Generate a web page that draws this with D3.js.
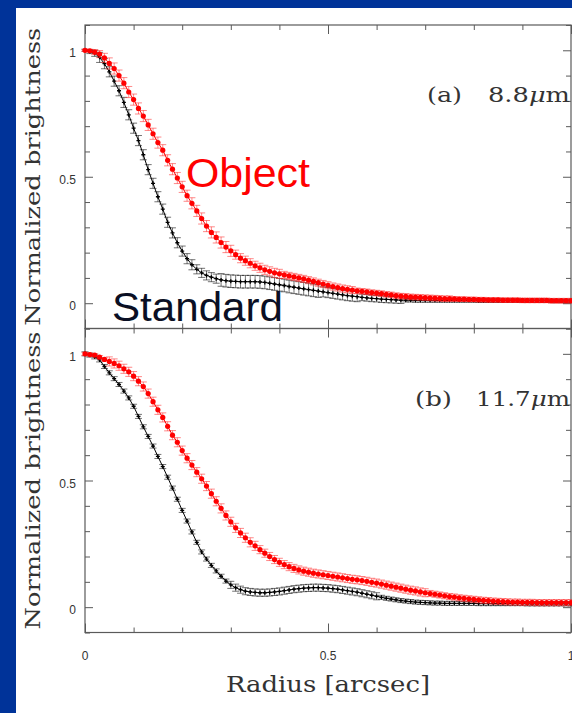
<!DOCTYPE html>
<html><head><meta charset="utf-8">
<script src="https://cdn.jsdelivr.net/npm/d3@7"></script>
<style>body{margin:0;background:#003399;}svg{display:block}</style>
</head><body><svg id="c" width="572" height="713"></svg>
<script>
// ---------------- data ----------------
const radius = [0,0.01,0.02,0.03,0.04,0.05,0.06,0.07,0.08,0.09,0.1,0.11,0.12,0.13,0.14,0.15,0.16,0.17,0.18,0.19,0.2,0.21,0.22,0.23,0.24,0.25,0.26,0.27,0.28,0.29,0.3,0.31,0.32,0.33,0.34,0.35,0.36,0.37,0.38,0.39,0.4,0.41,0.42,0.43,0.44,0.45,0.46,0.47,0.48,0.49,0.5,0.51,0.52,0.53,0.54,0.55,0.56,0.57,0.58,0.59,0.6,0.61,0.62,0.63,0.64,0.65,0.66,0.67,0.68,0.69,0.7,0.71,0.72,0.73,0.74,0.75,0.76,0.77,0.78,0.79,0.8,0.81,0.82,0.83,0.84,0.85,0.86,0.87,0.88,0.89,0.9,0.91,0.92,0.93,0.94,0.95,0.96,0.97,0.98,0.99,1.0];

// panel (a) 8.8 um
const objectA = [1.000,0.998,0.993,0.985,0.970,0.948,0.928,0.900,0.870,0.835,0.805,0.770,0.740,0.705,0.670,0.635,0.605,0.565,0.530,0.495,0.460,0.425,0.395,0.365,0.335,0.305,0.280,0.260,0.240,0.222,0.207,0.192,0.178,0.168,0.158,0.148,0.140,0.132,0.126,0.120,0.116,0.112,0.108,0.104,0.100,0.096,0.091,0.086,0.081,0.076,0.071,0.066,0.062,0.058,0.055,0.052,0.049,0.047,0.045,0.042,0.040,0.038,0.035,0.033,0.030,0.028,0.027,0.025,0.024,0.023,0.022,0.021,0.020,0.019,0.018,0.018,0.017,0.016,0.016,0.015,0.015,0.014,0.014,0.013,0.013,0.013,0.012,0.012,0.012,0.012,0.011,0.011,0.011,0.011,0.011,0.011,0.010,0.010,0.010,0.010,0.010];
const objectErrA = [0.004,0.006,0.010,0.014,0.018,0.022,0.022,0.022,0.022,0.022,0.022,0.022,0.022,0.022,0.022,0.022,0.022,0.022,0.022,0.022,0.022,0.022,0.022,0.022,0.022,0.022,0.022,0.022,0.022,0.022,0.022,0.018,0.018,0.018,0.018,0.018,0.018,0.018,0.018,0.018,0.018,0.014,0.014,0.014,0.014,0.014,0.014,0.014,0.014,0.014,0.014,0.014,0.014,0.014,0.014,0.014,0.011,0.011,0.011,0.011,0.011,0.011,0.011,0.011,0.011,0.011,0.011,0.011,0.011,0.011,0.011,0.011,0.011,0.011,0.011,0.011,0.009,0.009,0.009,0.009,0.009,0.009,0.009,0.009,0.009,0.009,0.009,0.009,0.009,0.009,0.009,0.009,0.009,0.009,0.009,0.009,0.009,0.009,0.009,0.009,0.009];
const standardA = [1.000,0.995,0.988,0.972,0.947,0.915,0.878,0.840,0.794,0.745,0.692,0.643,0.587,0.528,0.474,0.421,0.372,0.320,0.278,0.239,0.206,0.176,0.152,0.134,0.120,0.110,0.103,0.097,0.092,0.089,0.087,0.086,0.085,0.085,0.085,0.085,0.084,0.082,0.079,0.076,0.073,0.070,0.066,0.063,0.060,0.057,0.054,0.051,0.048,0.045,0.042,0.039,0.036,0.033,0.030,0.028,0.026,0.023,0.021,0.019,0.018,0.016,0.015,0.014,0.013,0.012,0.012,0.012,0.011,0.011,0.011,0.011,0.011,0.011,0.011,0.011,0.011,0.011,0.011,0.011,0.011,0.010,0.010,0.010,0.010,0.010,0.010,0.010,0.010,0.010,0.010,0.010,0.010,0.010,0.010,0.010,0.009,0.009,0.009,0.009,0.009];
const standardErrA = [0.004,0.008,0.012,0.020,0.020,0.020,0.020,0.020,0.020,0.020,0.020,0.020,0.020,0.020,0.020,0.020,0.020,0.020,0.020,0.020,0.020,0.020,0.020,0.018,0.018,0.018,0.018,0.018,0.025,0.025,0.025,0.025,0.025,0.025,0.025,0.025,0.025,0.025,0.025,0.025,0.025,0.025,0.025,0.025,0.025,0.025,0.025,0.025,0.025,0.020,0.020,0.020,0.020,0.020,0.020,0.020,0.020,0.013,0.013,0.013,0.013,0.013,0.013,0.013,0.013,0.013,0.007,0.007,0.007,0.007,0.007,0.007,0.007,0.007,0.007,0.007,0.007,0.007,0.007,0.007,0.007,0.007,0.007,0.007,0.007,0.007,0.007,0.007,0.007,0.007,0.007,0.007,0.007,0.007,0.007,0.007,0.007,0.007,0.007,0.007,0.007];

// panel (b) 11.7 um
const objectB = [1.000,0.997,0.995,0.987,0.978,0.970,0.962,0.953,0.941,0.929,0.912,0.892,0.871,0.843,0.811,0.779,0.749,0.714,0.679,0.651,0.618,0.588,0.561,0.533,0.507,0.478,0.448,0.418,0.390,0.362,0.337,0.313,0.293,0.274,0.256,0.242,0.227,0.213,0.200,0.188,0.177,0.168,0.160,0.153,0.147,0.142,0.138,0.134,0.131,0.128,0.125,0.122,0.119,0.116,0.113,0.110,0.108,0.105,0.102,0.098,0.095,0.091,0.087,0.083,0.079,0.075,0.071,0.067,0.064,0.060,0.057,0.054,0.051,0.048,0.045,0.042,0.040,0.037,0.035,0.033,0.031,0.029,0.027,0.026,0.024,0.023,0.022,0.021,0.020,0.020,0.019,0.019,0.019,0.018,0.018,0.018,0.018,0.018,0.018,0.018,0.018];
const objectErrB = [0.006,0.006,0.006,0.006,0.006,0.018,0.018,0.018,0.018,0.018,0.018,0.018,0.018,0.018,0.018,0.018,0.018,0.018,0.018,0.018,0.018,0.018,0.018,0.018,0.018,0.018,0.018,0.018,0.018,0.018,0.018,0.018,0.018,0.018,0.018,0.018,0.016,0.016,0.016,0.016,0.016,0.016,0.016,0.016,0.016,0.016,0.016,0.016,0.016,0.016,0.016,0.016,0.016,0.016,0.016,0.016,0.016,0.016,0.016,0.016,0.016,0.016,0.016,0.016,0.016,0.016,0.016,0.016,0.016,0.016,0.016,0.012,0.012,0.012,0.012,0.012,0.012,0.012,0.012,0.012,0.012,0.012,0.012,0.012,0.012,0.012,0.012,0.012,0.012,0.012,0.012,0.012,0.012,0.012,0.012,0.012,0.012,0.012,0.012,0.012,0.012];
const standardB = [1.000,0.995,0.988,0.976,0.950,0.925,0.902,0.879,0.853,0.826,0.793,0.753,0.712,0.674,0.636,0.595,0.555,0.513,0.470,0.426,0.382,0.340,0.297,0.256,0.218,0.190,0.165,0.143,0.122,0.103,0.088,0.077,0.069,0.063,0.060,0.058,0.057,0.057,0.058,0.060,0.062,0.065,0.068,0.071,0.073,0.075,0.076,0.077,0.077,0.076,0.075,0.073,0.071,0.068,0.065,0.062,0.059,0.055,0.051,0.047,0.043,0.039,0.035,0.032,0.029,0.026,0.024,0.022,0.020,0.019,0.018,0.017,0.016,0.016,0.015,0.015,0.015,0.015,0.015,0.015,0.015,0.014,0.014,0.014,0.014,0.014,0.014,0.014,0.014,0.014,0.014,0.013,0.013,0.013,0.013,0.013,0.013,0.013,0.013,0.013,0.013];
const standardErrB = [0.008,0.008,0.008,0.008,0.008,0.008,0.008,0.008,0.008,0.008,0.008,0.008,0.008,0.008,0.008,0.008,0.008,0.008,0.008,0.008,0.008,0.008,0.008,0.008,0.008,0.008,0.008,0.008,0.008,0.008,0.014,0.014,0.014,0.014,0.014,0.014,0.014,0.014,0.014,0.014,0.014,0.014,0.014,0.014,0.014,0.014,0.014,0.014,0.014,0.014,0.014,0.014,0.014,0.014,0.014,0.014,0.014,0.014,0.014,0.014,0.014,0.008,0.008,0.008,0.008,0.008,0.008,0.008,0.008,0.008,0.008,0.008,0.008,0.008,0.008,0.008,0.008,0.008,0.008,0.008,0.008,0.008,0.008,0.008,0.008,0.008,0.008,0.008,0.008,0.008,0.008,0.008,0.008,0.008,0.008,0.008,0.008,0.008,0.008,0.008,0.008];

const yTickValues = [0, 0.5, 1];
const yTickLabels = ["0", "0.5", "1"];
const xTickValues = [0, 0.5, 1];
const xTickLabels = ["0", "0.5", "1"];
const panelLetters = ["(a)", "(b)"];
const panelWaves = ["8.8", "11.7"];
const seriesNames = ["Object", "Standard"];
const yTitle = "Normalized brightness";
const xTitle = "Radius [arcsec]";

// ---------------- drawing ----------------
const svg = d3.select("#c");
svg.append("rect").attr("width", 572).attr("height", 713).attr("fill", "#003399");
svg.append("rect").attr("x", 16).attr("y", 8).attr("width", 556).attr("height", 705).attr("fill", "#ffffff");

const x = d3.scaleLinear().domain([0, 1]).range([85, 571]);
const panels = [
  {top: 25, bottom: 328.5, obj: objectA, objErr: objectErrA, std: standardA, stdErr: standardErrA,
   letter: panelLetters[0], wave: panelWaves[0], lx: 427, lw: 35, wx: 488, ww: 82},
  {top: 328.5, bottom: 632.5, obj: objectB, objErr: objectErrB, std: standardB, stdErr: standardErrB,
   letter: panelLetters[1], wave: panelWaves[1], lx: 415, lw: 37, wx: 476, ww: 94}
];
const axisColor = "#5a5a5a";
const minorVals = [0.1,0.2,0.3,0.4,0.6,0.7,0.8,0.9];
const yMinorVals = [-0.1,0.1,0.2,0.3,0.4,0.6,0.7,0.8,0.9,1.1];

function styleAxis(g) {
  g.select(".domain").remove();
  g.selectAll(".tick line").attr("stroke", axisColor).attr("stroke-width", 1);
}

panels.forEach((p, pi) => {
  const y = d3.scaleLinear().domain([-0.1, 1.1]).range([p.bottom, p.top]);
  const g = svg.append("g");

  // ticks (inward) on all four sides
  g.append("g").attr("transform", `translate(${x(0)},0)`)
    .call(d3.axisLeft(y).tickValues(yTickValues).tickSize(-8).tickFormat(""))
    .call(styleAxis);
  g.append("g").attr("transform", `translate(${x(0)},0)`)
    .call(d3.axisLeft(y).tickValues(yMinorVals).tickSize(-5).tickFormat(""))
    .call(styleAxis);
  g.append("g").attr("transform", `translate(${x(1)},0)`)
    .call(d3.axisRight(y).tickValues(yTickValues).tickSize(-8).tickFormat(""))
    .call(styleAxis);
  g.append("g").attr("transform", `translate(${x(1)},0)`)
    .call(d3.axisRight(y).tickValues(yMinorVals).tickSize(-5).tickFormat(""))
    .call(styleAxis);
  [[p.top, d3.axisTop], [p.bottom, d3.axisBottom]].forEach(([yy, ax]) => {
    g.append("g").attr("transform", `translate(0,${yy})`)
      .call(ax(x).tickValues(xTickValues).tickSize(-9).tickFormat(""))
      .call(styleAxis);
    g.append("g").attr("transform", `translate(0,${yy})`)
      .call(ax(x).tickValues(minorVals).tickSize(-5).tickFormat(""))
      .call(styleAxis);
  });

  // frame
  g.append("rect").attr("x", x(0)).attr("y", p.top)
    .attr("width", x(1) - x(0)).attr("height", p.bottom - p.top)
    .attr("fill", "none").attr("stroke", axisColor).attr("stroke-width", 1.2);

  // y tick labels
  g.selectAll(".ylab").data(yTickValues).enter().append("text")
    .attr("x", x(0) - 9).attr("y", d => y(d) + 7)
    .attr("text-anchor", "end")
    .attr("font-family", "Liberation Sans, Arial, sans-serif")
    .attr("font-size", 12).attr("fill", "#333")
    .text((d, i) => yTickLabels[i]);

  // y title
  g.append("text")
    .attr("transform", `translate(40,${(p.top + p.bottom) / 2}) rotate(-90)`)
    .attr("text-anchor", "middle")
    .attr("font-family", "DejaVu Serif, serif")
    .attr("font-size", 20).attr("fill", "#333")
    .attr("textLength", 298).attr("lengthAdjust", "spacingAndGlyphs")
    .text(yTitle);

  // panel label
  g.append("text").attr("x", p.lx).attr("y", p.top + 77)
    .attr("font-family", "DejaVu Serif, serif").attr("font-size", 20).attr("fill", "#333")
    .attr("textLength", p.lw).attr("lengthAdjust", "spacingAndGlyphs")
    .text(p.letter);
  const wt = g.append("text").attr("x", p.wx).attr("y", p.top + 77)
    .attr("font-family", "DejaVu Serif, serif").attr("font-size", 20).attr("fill", "#333")
    .attr("textLength", p.ww).attr("lengthAdjust", "spacingAndGlyphs");
  wt.append("tspan").text(p.wave);
  wt.append("tspan").attr("font-style", "italic").text("\u03BC");
  wt.append("tspan").text("m");

  // series
  const series = [
    {vals: p.std, errs: p.stdErr, line: "#000", err: "rgba(0,0,0,0.55)", kind: "plus"},
    {vals: p.obj, errs: p.objErr, line: "#ff0000", err: "rgba(255,40,40,0.55)", kind: "dot"}
  ];
  series.forEach(s => {
    const data = radius.map((r, i) => ({r, v: s.vals[i], e: s.errs[i]}));
    const sg = g.append("g");
    const eb = sg.selectAll(".eb").data(data).enter().append("g");
    eb.append("line")
      .attr("x1", d => x(d.r)).attr("x2", d => x(d.r))
      .attr("y1", d => y(d.v - d.e)).attr("y2", d => y(d.v + d.e))
      .attr("stroke", s.err).attr("stroke-width", 1);
    eb.append("line")
      .attr("x1", d => x(d.r) - 3.5).attr("x2", d => x(d.r) + 3.5)
      .attr("y1", d => y(d.v - d.e)).attr("y2", d => y(d.v - d.e))
      .attr("stroke", s.err).attr("stroke-width", 1);
    eb.append("line")
      .attr("x1", d => x(d.r) - 3.5).attr("x2", d => x(d.r) + 3.5)
      .attr("y1", d => y(d.v + d.e)).attr("y2", d => y(d.v + d.e))
      .attr("stroke", s.err).attr("stroke-width", 1);
    sg.append("path").datum(data)
      .attr("d", d3.line().x(d => x(d.r)).y(d => y(d.v)))
      .attr("fill", "none").attr("stroke", s.line).attr("stroke-width", 1);
    if (s.kind === "dot") {
      sg.selectAll(".m").data(data).enter().append("circle")
        .attr("cx", d => x(d.r)).attr("cy", d => y(d.v)).attr("r", 2.6)
        .attr("fill", "#ff0000");
    } else {
      sg.selectAll(".m").data(data).enter().append("path")
        .attr("transform", d => `translate(${x(d.r)},${y(d.v)})`)
        .attr("d", "M-2,0H2M0,-2V2")
        .attr("stroke", "#000").attr("stroke-width", 1.3);
    }
  });
});

// x tick labels (bottom panel)
svg.selectAll(".xlab").data(xTickValues).enter().append("text")
  .attr("x", d => x(d)).attr("y", 660)
  .attr("text-anchor", "middle")
  .attr("font-family", "Liberation Sans, Arial, sans-serif")
  .attr("font-size", 12).attr("fill", "#333")
  .text((d, i) => xTickLabels[i]);

// x title
svg.append("text").attr("x", 328).attr("y", 692)
  .attr("text-anchor", "middle")
  .attr("font-family", "DejaVu Serif, serif").attr("font-size", 23).attr("fill", "#333")
  .attr("textLength", 204).attr("lengthAdjust", "spacingAndGlyphs")
  .text(xTitle);

// series labels
svg.append("text").attr("x", 186).attr("y", 187)
  .attr("font-family", "Liberation Sans, Arial, sans-serif").attr("font-size", 41)
  .attr("fill", "#ff0000").attr("textLength", 124).attr("lengthAdjust", "spacingAndGlyphs")
  .text(seriesNames[0]);
svg.append("text").attr("x", 112).attr("y", 321)
  .attr("font-family", "Liberation Sans, Arial, sans-serif").attr("font-size", 41)
  .attr("fill", "#0a0f24").attr("textLength", 171).attr("lengthAdjust", "spacingAndGlyphs")
  .text(seriesNames[1]);
</script></body></html>
